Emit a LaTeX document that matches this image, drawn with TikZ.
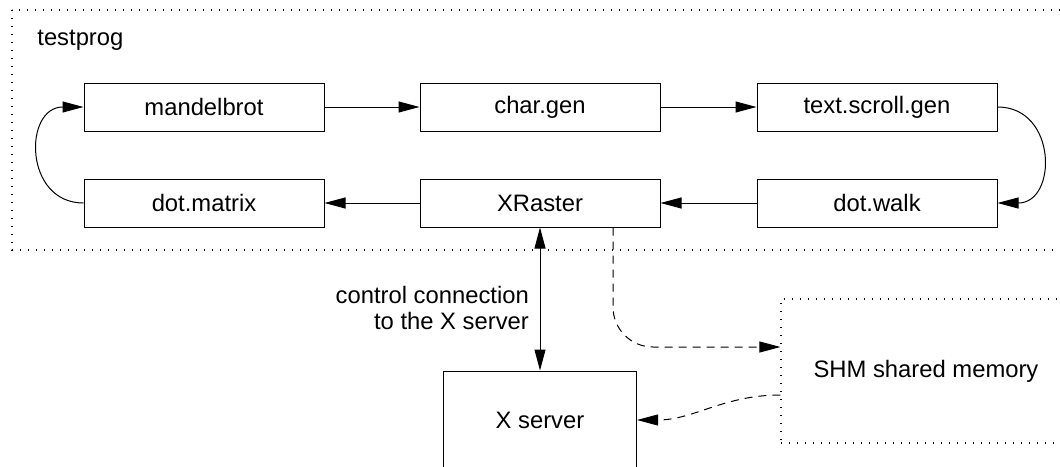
\documentclass[tikz,border=0pt]{standalone}
\usepackage{fontspec}
\setmainfont{Liberation Sans}
\usetikzlibrary{arrows.meta}

\begin{document}
\begin{tikzpicture}[x=0.5pt,y=-0.5pt,
    every node/.style={font=\fontsize{11.9pt}{13pt}\selectfont},
    box/.style={draw,line width=0.5pt,minimum width=120pt,minimum height=24pt,inner sep=0pt},
    dotbox/.style={draw,line width=0.6pt,dash pattern=on 0.6pt off 3.4pt},
    link/.style={line width=0.5pt,-{Triangle[length=10.5pt,width=5.5pt]}},
    dashlink/.style={link,dash pattern=on 4pt off 3pt}]
      \clip (0,0) rectangle (1060,466) ;
      % testprog frame
      \draw[dotbox] (12,10) rectangle (1100,250) ;
      \node[anchor=west,inner sep=0pt] (testprog) at (37,40) {testprog} ;
      \node[box] (mandel) at (204,107) {mandelbrot} ;
      \node[box] (chargen) at (540,107) {char.gen} ;
      \node[box] (scrollgen) at (877,107) {text.scroll.gen} ;
      \node[box] (dotmatrix) at (204,203) {dot.matrix} ;
      \node[box] (xraster) at (540,203) {XRaster} ;
      \node[box] (dotwalk) at (877,203) {dot.walk} ;
      \draw[link] (mandel) -- (chargen) ;
      \draw[link] (chargen) -- (scrollgen) ;
      \draw[link] (scrollgen.east) .. controls +(60,0) and +(60,0) .. (dotwalk.east) ;
      \draw[link] (dotwalk) -- (xraster) ;
      \draw[link] (xraster) -- (dotmatrix) ;
      \draw[link] (dotmatrix.west) .. controls +(-60,0) and +(-60,0) .. (mandel.west) ;
      % outside the program
      \node[box,minimum width=96.5pt,minimum height=49pt] (xserver) at (540,420) {X server} ;
      \node[dotbox,minimum width=145pt,minimum height=72pt] (shm) at (926,371) {SHM shared memory} ;
      \draw[link,{Triangle[length=10.5pt,width=5.5pt]}-{Triangle[length=10.5pt,width=5.5pt]}] %
      (xraster) -- (xserver) node[pos=0.56,left=2pt,align=right] (ctrl) {control connection\\to the X server} ;
      \draw[dashlink,rounded corners=20pt] ([xshift=36.5pt]xraster.south) |- ([yshift=12pt]shm.west) ;
      \draw[dashlink] ([yshift=-12pt]shm.west) to[out=180,in=0] (xserver.east) ;
    \end{tikzpicture}
\end{document}
